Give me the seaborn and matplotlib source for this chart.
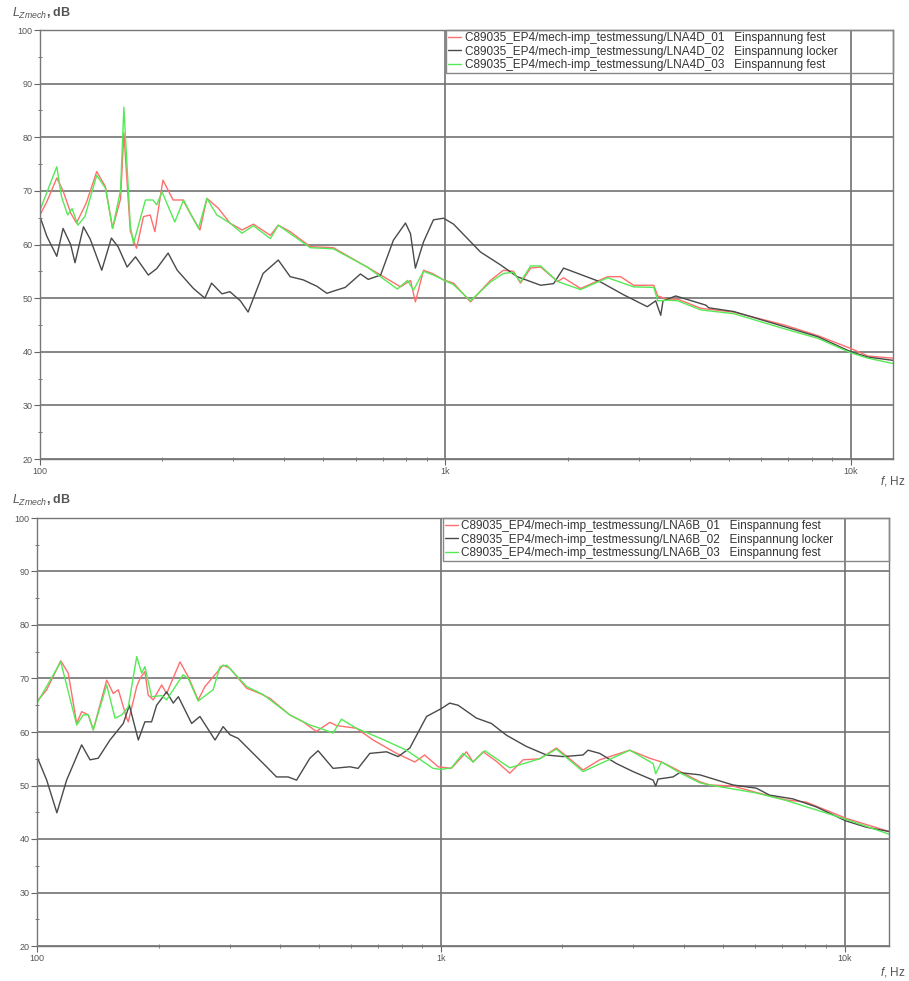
import numpy as np
import pandas as pd
import seaborn as sns
import matplotlib.pyplot as plt
from matplotlib.ticker import FixedLocator, NullFormatter

# Top panel: LNA4D measurements (frequency in Hz, level in dB)
top_red_f = [100, 104, 110, 114, 119, 123, 130, 138, 145, 151, 158, 161, 167, 173, 180, 187, 192, 201, 213, 225,
             234, 248, 258, 275, 294, 315, 336, 370, 387, 414, 464, 529, 641, 775, 820, 843, 883, 934, 989, 1047,
             1153, 1291, 1390, 1472, 1531, 1622, 1717, 1890, 1956, 2154, 2512, 2704, 2911, 3265, 3338, 3532, 3740,
             4266, 5140, 6839, 8290, 10000, 11020, 12700]
top_red_db = [65.5, 68, 72.4, 70, 65.9, 64, 67.7, 73.6, 70.8, 63, 68.5, 80.8, 62.5, 59.3, 65.2, 65.5, 62.4, 72, 68.3, 68.3,
              66, 62.7, 68.6, 66.8, 64, 62.7, 63.8, 61.7, 63.6, 62.4, 59.6, 59.4, 55.8, 52.1, 53.3, 49.3, 55.2, 54.5, 53.4, 52.8,
              49.3, 53.3, 55.2, 55, 52.8, 55.6, 55.8, 53.1, 53.8, 51.8, 54, 54, 52.4, 52.4, 50.4, 49.8, 49.8,
              48.1, 47.4, 45, 43, 40.6, 39.2, 38.8]

top_black_f = [100, 104, 110, 114, 119, 122, 128, 133, 142, 150, 156, 164, 172, 185, 194, 207, 218, 239, 255, 265,
               281, 294, 312, 326, 355, 387, 414, 446, 482, 510, 529, 566, 617, 645, 692, 744, 797, 820, 843, 883,
               934, 989, 1047, 1220, 1367, 1503, 1717, 1848, 1956, 2070, 2415, 2754, 3147, 3300, 3396, 3440, 3698,
               4385, 4460, 5140, 6839, 8290, 10000, 11020, 12700]
top_black_db = [65.2, 61.5, 57.8, 63, 60, 56.6, 63.3, 61, 55.2, 61.2, 59.5, 55.8, 57.7, 54.3, 55.5, 58.4, 55.2, 51.8, 50, 52.8,
                50.8, 51.2, 49.5, 47.4, 54.6, 57.1, 54, 53.4, 52.2, 50.9, 51.3, 52, 54.5, 53.5, 54.3, 60.8, 64, 62, 55.6, 60.5,
                64.6, 64.9, 63.8, 58.6, 56.2, 54, 52.4, 52.7, 55.6, 54.9, 53, 50.6, 48.4, 49.5, 46.8, 49.5, 50.4,
                48.7, 48.2, 47.5, 44.7, 42.8, 40, 39, 38.4]

top_green_f = [100, 110, 113, 117, 120, 124, 129, 138, 145, 151, 158, 161, 167, 170, 182, 190, 194, 200, 215, 226,
               234, 246, 258, 273, 294, 315, 336, 370, 387, 464, 529, 641, 761, 806, 834, 883, 934, 989, 1047, 1153,
               1291, 1390, 1472, 1531, 1622, 1717, 1890, 2154, 2512, 2911, 3265, 3338, 3532, 3740, 4266, 5140, 6839,
               8290, 10000, 11020, 12700]
top_green_db = [66.4, 74.5, 68.9, 65.5, 66.7, 63.6, 65.2, 72.9, 70.5, 63, 70.1, 85.6, 63.5, 60.2, 68.3, 68.3, 67.4, 69.8, 64.2, 68.3,
                66, 63, 68.6, 65.5, 64, 62.1, 63.5, 61.1, 63.6, 59.4, 59.2, 55.8, 51.7, 53.3, 51.5, 55, 54.3, 53.4, 52.5, 49.5,
                53, 54.6, 54.8, 53, 56, 56, 53.1, 51.6, 53.8, 52.1, 52, 49.5, 49.6, 49.5, 47.8, 47.1, 44.3,
                42.5, 39.8, 38.8, 37.8]

# Bottom panel: LNA6B measurements
bot_red_f = [100, 105.7, 114.5, 119.5, 125.4, 129, 134, 137.8, 148.8, 154.5, 159, 166.7, 168.3, 176.6, 179.9, 185, 188.5,
             194, 203.6, 209.4, 226, 237, 250.7, 260.6, 273, 289, 300.5, 330.4, 356.4, 377.3, 422.7, 456, 492, 531, 552,
             618, 680, 777, 862, 912, 985, 1062, 1158, 1202, 1273, 1374, 1482, 1599, 1758, 1933, 2047, 2250, 2475, 2937,
             3291, 3519, 3831, 4377, 4634, 5290, 6044, 7170, 8035, 10060, 11320, 12880]
bot_red_db = [65.7, 67.9, 73.3, 71, 61.6, 63.8, 63.2, 60.4, 69.7, 67.2, 67.9, 62.6, 61.9, 68.5, 70, 71.3, 66.9,
              66, 68.8, 67.2, 73.1, 70.3, 66, 68.5, 70.3, 72.5, 71.9, 68.2, 67.2, 66.3, 63.2, 61.9, 60.1, 61.8, 61.2,
              60.7, 58.5, 56, 54.4, 55.7, 53.5, 53.2, 56.3, 54.4, 56.3, 54.5, 52.3, 54.8, 55, 57, 55.5, 52.9, 54.8, 56.6,
              55.1, 54.4, 53, 50.7, 50.1, 49.9, 48.7, 47.3, 46.9, 43.9, 42.7, 41.4]

bot_black_f = [100, 105.7, 112, 118.4, 129, 135.3, 141.8, 151.6, 163.6, 169.3, 178.2, 185, 192.2, 197.8, 209.4, 217.5,
               223.9, 241.5, 253.2, 276, 289, 300.5, 314.9, 336.7, 370.3, 391.8, 418.8, 439.3, 474, 496.7, 541, 595.6,
               624, 667, 733.9, 784, 838, 922, 1004, 1052, 1104, 1225, 1334, 1454, 1629, 1827, 2009, 2250, 2315, 2475,
               2723, 2993, 3356, 3405, 3451, 3758, 3904, 4377, 5290, 6044, 6520, 7447, 8508, 10060, 11320, 12880]
bot_black_db = [55.4, 51, 44.9, 51, 57.6, 54.8, 55.1, 58.5, 61.6, 65, 58.5, 61.9, 61.9, 65, 67.5, 65.4,
                66.6, 61.6, 62.9, 58.5, 61, 59.5, 58.8, 56.6, 53.5, 51.6, 51.6, 51, 55.1, 56.5, 53.2, 53.5,
                53.2, 56, 56.3, 55.4, 57, 62.9, 64.4, 65.4, 65, 62.6, 61.6, 59.4, 57.3, 55.7, 55.4, 55.7, 56.6, 56,
                54.1, 52.6, 51, 49.9, 51.2, 51.6, 52.4, 52, 50.1, 49.5, 48.2, 47.5, 46, 43.4, 42.2, 41.4]

bot_green_f = [100, 114.5, 125.4, 130.2, 134, 137.8, 148.8, 156, 162.2, 168.3, 176.6, 181.6, 185, 192.2, 203.6, 209.4,
               230, 237, 250.7, 273, 283.8, 294.9, 330.4, 363, 422.7, 474, 511, 541, 567.5, 618, 719.5, 822, 957, 1004,
               1062, 1135, 1202, 1285, 1482, 1758, 1933, 2250, 2937, 3356, 3405, 3519, 3904, 4377, 4634, 6044, 7170,
               10060, 12880]
bot_green_db = [65.4, 73.1, 61.3, 63.2, 63.2, 60.4, 68.8, 62.6, 63.2, 64.7, 74.1, 71, 72.2, 66.6, 66.8, 66,
                70.7, 70, 65.8, 67.9, 72.2, 72.5, 68.5, 67, 63.2, 61.3, 60.5, 59.8, 62.4, 60.7, 58.6, 56.6, 53.2, 53,
                53.3, 56, 54.4, 56.5, 53.3, 55, 56.8, 52.6, 56.6, 54.1, 52.2, 54.4, 52.4, 50.5, 50.1, 48.6, 47.2,
                43.7, 40.9]

top_labels = ["C89035_EP4/mech-imp_testmessung/LNA4D_01   Einspannung fest",
              "C89035_EP4/mech-imp_testmessung/LNA4D_02   Einspannung locker",
              "C89035_EP4/mech-imp_testmessung/LNA4D_03   Einspannung fest"]
bot_labels = ["C89035_EP4/mech-imp_testmessung/LNA6B_01   Einspannung fest",
              "C89035_EP4/mech-imp_testmessung/LNA6B_02   Einspannung locker",
              "C89035_EP4/mech-imp_testmessung/LNA6B_03   Einspannung fest"]
colors = ["#ff6e6e", "#4a4a4a", "#55ea55"]

sns.set_style("white")
plt.rcParams['font.family'] = ['Liberation Sans', 'DejaVu Sans']
plt.rcParams['mathtext.fontset'] = 'custom'
plt.rcParams['mathtext.it'] = 'Liberation Sans:italic'
plt.rcParams['mathtext.rm'] = 'Liberation Sans'

fig = plt.figure(figsize=(9.09, 9.81), dpi=100)
ax_top = fig.add_axes([40 / 909, 1 - 459 / 981, 853 / 909, 429 / 981])
ax_bot = fig.add_axes([37 / 909, 1 - 946 / 981, 852 / 909, 428 / 981])

panels = [
    (ax_top, [(top_red_f, top_red_db), (top_black_f, top_black_db), (top_green_f, top_green_db)], top_labels, 12700),
    (ax_bot, [(bot_red_f, bot_red_db), (bot_black_f, bot_black_db), (bot_green_f, bot_green_db)], bot_labels, 12880),
]

grid_col = "#727272"
for ax, series, labels, xmax in panels:
    for (f, db), lab, col in zip(series, labels, colors):
        df = pd.DataFrame({"f": f, "L": db})
        sns.lineplot(data=df, x="f", y="L", color=col, linewidth=1.0, label=lab,
                     estimator=None, sort=False, ax=ax)
    ax.set_xscale("log")
    ax.set_xlim(100, xmax)
    ax.set_ylim(20, 100)
    ax.set_xticks([100, 1000, 10000], labels=["100", "1k", "10k"])
    ax.xaxis.set_minor_locator(FixedLocator([200, 300, 400, 500, 600, 700, 800, 900,
                                             2000, 3000, 4000, 5000, 6000, 7000, 8000, 9000]))
    ax.xaxis.set_minor_formatter(NullFormatter())
    ax.set_yticks(range(20, 101, 10))
    ax.yaxis.set_minor_locator(FixedLocator(range(25, 100, 10)))
    ax.grid(True, which="major", color=grid_col, linewidth=1.2)
    ax.tick_params(which="major", length=4, width=0.8, color="#666666", labelsize=6.5,
                   labelcolor="#555555", pad=1.5, left=True, bottom=True, direction="out")
    ax.tick_params(which="minor", length=3, width=0.6, color="#666666", left=True, bottom=True,
                   direction="inout")
    for sp in ax.spines.values():
        sp.set_color("#777777")
        sp.set_linewidth(1.0)
    ax.set_xlabel("")
    ax.set_ylabel("")
    ax.legend(loc="upper left", bbox_to_anchor=(0.476, 0.0, 0.524, 1.0), mode="expand",
              borderaxespad=0, fontsize=8.5, frameon=True, fancybox=False,
              edgecolor="#888888", facecolor="none", framealpha=1,
              handlelength=1.1, handletextpad=0.3, labelspacing=0.1, borderpad=0.2,
              labelcolor="#333333")

for ytop, ybot in [(13, 481), (500, 972)]:
    fig.text(12 / 909, 1 - ytop / 981, r"$L_{Zmech}$, dB", fontsize=9, color="#555555",
             va="center", ha="left", fontweight="bold")
    fig.text(906 / 909, 1 - ybot / 981, r"$f$, Hz", fontsize=8.5, color="#555555",
             va="center", ha="right")

fig.savefig("out.png", dpi=100, facecolor="white")
